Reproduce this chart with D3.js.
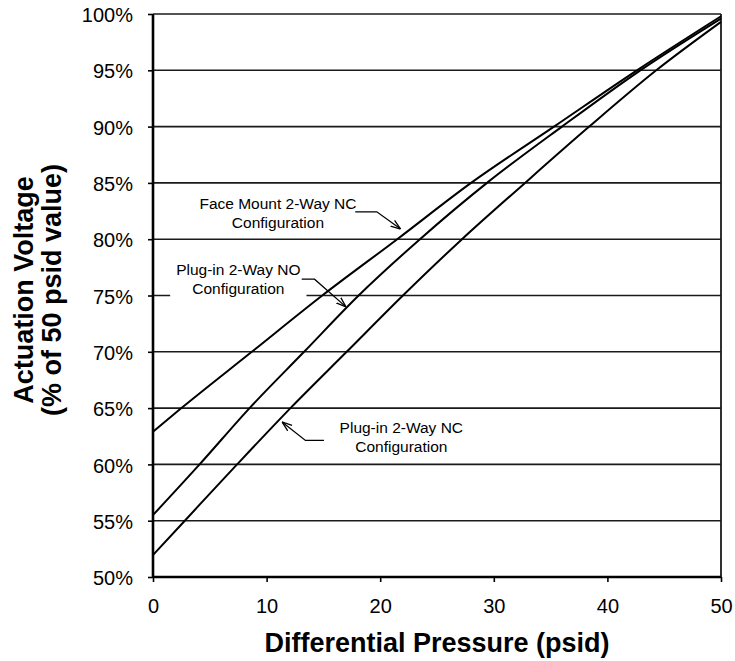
<!DOCTYPE html>
<html>
<head>
<meta charset="utf-8">
<script src="https://cdn.jsdelivr.net/npm/d3@7"></script>
<style>
  html, body { margin: 0; padding: 0; background: #fff; }
  svg { display: block; font-family: "Liberation Sans", Arial, sans-serif; }
</style>
</head>
<body>
<svg id="chart" width="735" height="661"></svg>
<script>
// ---- data ----
const xTicks = [0, 10, 20, 30, 40, 50];
const yTicks = [50, 55, 60, 65, 70, 75, 80, 85, 90, 95, 100];

const faceP = [0, 2.5, 8.7, 14.9, 21.5, 28.0, 35.3, 42.6, 50];
const faceV = [62.9, 65, 70, 75, 80, 85, 90, 95, 99.8];

const noP = [0, 4.1, 8.5, 13.3, 18.1, 23.5, 29.4, 36.0, 42.9, 50];
const noV = [55.5, 60, 65, 70, 75, 80, 85, 90, 95, 99.6];

const ncP = [0, 2.8, 7.4, 12.1, 17.05, 22.0, 27.2, 32.75, 38.4, 44.3, 50];
const ncV = [51.95, 55, 60, 65, 70, 75, 80, 85, 90, 95, 99.3];

const seriesNames = ["Face Mount 2-Way NC", "Plug-in 2-Way NO", "Plug-in 2-Way NC"];

// annotations: label lines, text anchor (data units), leader points (data units)
const annLines = [
  ["Face Mount 2-Way NC", "Configuration"],
  ["Plug-in 2-Way NO", "Configuration"],
  ["Plug-in 2-Way NC", "Configuration"]
];
const annText = [[11.0, 82.66], [7.51, 76.83], [21.86, 62.80]];
const annLeader = [
  [[17.8, 82.43], [19.7, 82.43], [21.8, 80.9]],
  [[13.09, 76.45], [14.22, 76.45], [16.99, 73.99]],
  [[15.05, 62.13], [13.42, 62.13], [11.36, 63.77]]
];

// ---- layout ----
const svg = d3.select("#chart");
const mLeft = 153, mRight = 721, mTop = 14, mBottom = 577;

const x = d3.scaleLinear().domain([0, 50]).range([mLeft, mRight]);
const y = d3.scaleLinear().domain([50, 100]).range([mBottom, mTop]);

// gridlines
svg.append("g")
  .selectAll("line")
  .data(yTicks.filter(v => v > 50))
  .join("line")
  .attr("x1", mLeft).attr("x2", mRight)
  .attr("y1", d => y(d)).attr("y2", d => y(d))
  .attr("stroke", "#1a1a1a").attr("stroke-width", 1.6);

// right border
svg.append("line")
  .attr("x1", mRight).attr("x2", mRight).attr("y1", mTop).attr("y2", mBottom)
  .attr("stroke", "#1a1a1a").attr("stroke-width", 1.8);

// axes
const xAxis = d3.axisBottom(x).tickValues(xTicks).tickSize(5).tickPadding(17).tickFormat(d3.format("d"));
const yAxis = d3.axisLeft(y).tickValues(yTicks).tickSize(5).tickPadding(15).tickFormat(d => d + "%");

const gx = svg.append("g").attr("transform", `translate(0,${mBottom})`).call(xAxis);
const gy = svg.append("g").attr("transform", `translate(${mLeft},0)`).call(yAxis);

[gx, gy].forEach(g => {
  g.select(".domain").attr("stroke", "#000").attr("stroke-width", 2.6);
  g.selectAll(".tick line").attr("stroke", "#000").attr("stroke-width", 1.6);
  g.selectAll("text").attr("fill", "#000").attr("font-size", 20)
    .attr("font-family", "'Liberation Sans', Arial, sans-serif");
});
gy.selectAll(".tick text").attr("dy", "0.38em");
gx.select(".domain").attr("d", `M${mLeft},0H${mRight}`);
gy.select(".domain").attr("d", `M0,${mBottom}V${mTop}`);

// curves
const series = [
  faceP.map((p, i) => [p, faceV[i]]),
  noP.map((p, i) => [p, noV[i]]),
  ncP.map((p, i) => [p, ncV[i]])
];
const line = d3.line().x(d => x(d[0])).y(d => y(d[1])).curve(d3.curveMonotoneX);
svg.append("g")
  .selectAll("path")
  .data(series)
  .join("path")
  .attr("d", line)
  .attr("fill", "none")
  .attr("stroke", "#000")
  .attr("stroke-width", 2);

// arrow marker
svg.append("defs").append("marker")
  .attr("id", "arrow")
  .attr("viewBox", "0 0 10 10")
  .attr("refX", 10).attr("refY", 5)
  .attr("markerWidth", 10).attr("markerHeight", 10)
  .attr("markerUnits", "userSpaceOnUse")
  .attr("orient", "auto")
  .append("path")
  .attr("d", "M0,1.5 L10,5 L0,8.5")
  .attr("fill", "none")
  .attr("stroke", "#000")
  .attr("stroke-width", 1.3);

// annotations
const ann = svg.append("g");
annLines.forEach((lines, i) => {
  const g = ann.append("g");
  const bg = g.append("rect").attr("fill", "#fff");
  const t = g.append("text")
    .attr("text-anchor", "middle")
    .attr("font-size", 15.5)
    .attr("fill", "#000");
  lines.forEach((s, j) => {
    t.append("tspan")
      .attr("x", x(annText[i][0]))
      .attr("y", y(annText[i][1]) + j * 19)
      .text(s);
  });
  const bb = t.node().getBBox();
  bg.attr("x", bb.x - 6).attr("y", bb.y - 1)
    .attr("width", bb.width + 12).attr("height", bb.height + 2);
  ann.append("path")
    .attr("d", d3.line().x(d => x(d[0])).y(d => y(d[1]))(annLeader[i]))
    .attr("fill", "none")
    .attr("stroke", "#000")
    .attr("stroke-width", 1.3)
    .attr("marker-end", "url(#arrow)");
});

// axis titles
svg.append("text")
  .attr("x", (mLeft + mRight) / 2)
  .attr("y", 652)
  .attr("text-anchor", "middle")
  .attr("font-size", 27)
  .attr("font-weight", "bold")
  .attr("fill", "#000")
  .text("Differential Pressure (psid)");

const yt = svg.append("text")
  .attr("transform", "translate(0,290) rotate(-90)")
  .attr("text-anchor", "middle")
  .attr("font-size", 27)
  .attr("font-weight", "bold")
  .attr("fill", "#000");
yt.append("tspan").attr("x", 0).attr("y", 33).text("Actuation Voltage");
yt.append("tspan").attr("x", 0).attr("y", 61).text("(% of 50 psid value)");
</script>
</body>
</html>
